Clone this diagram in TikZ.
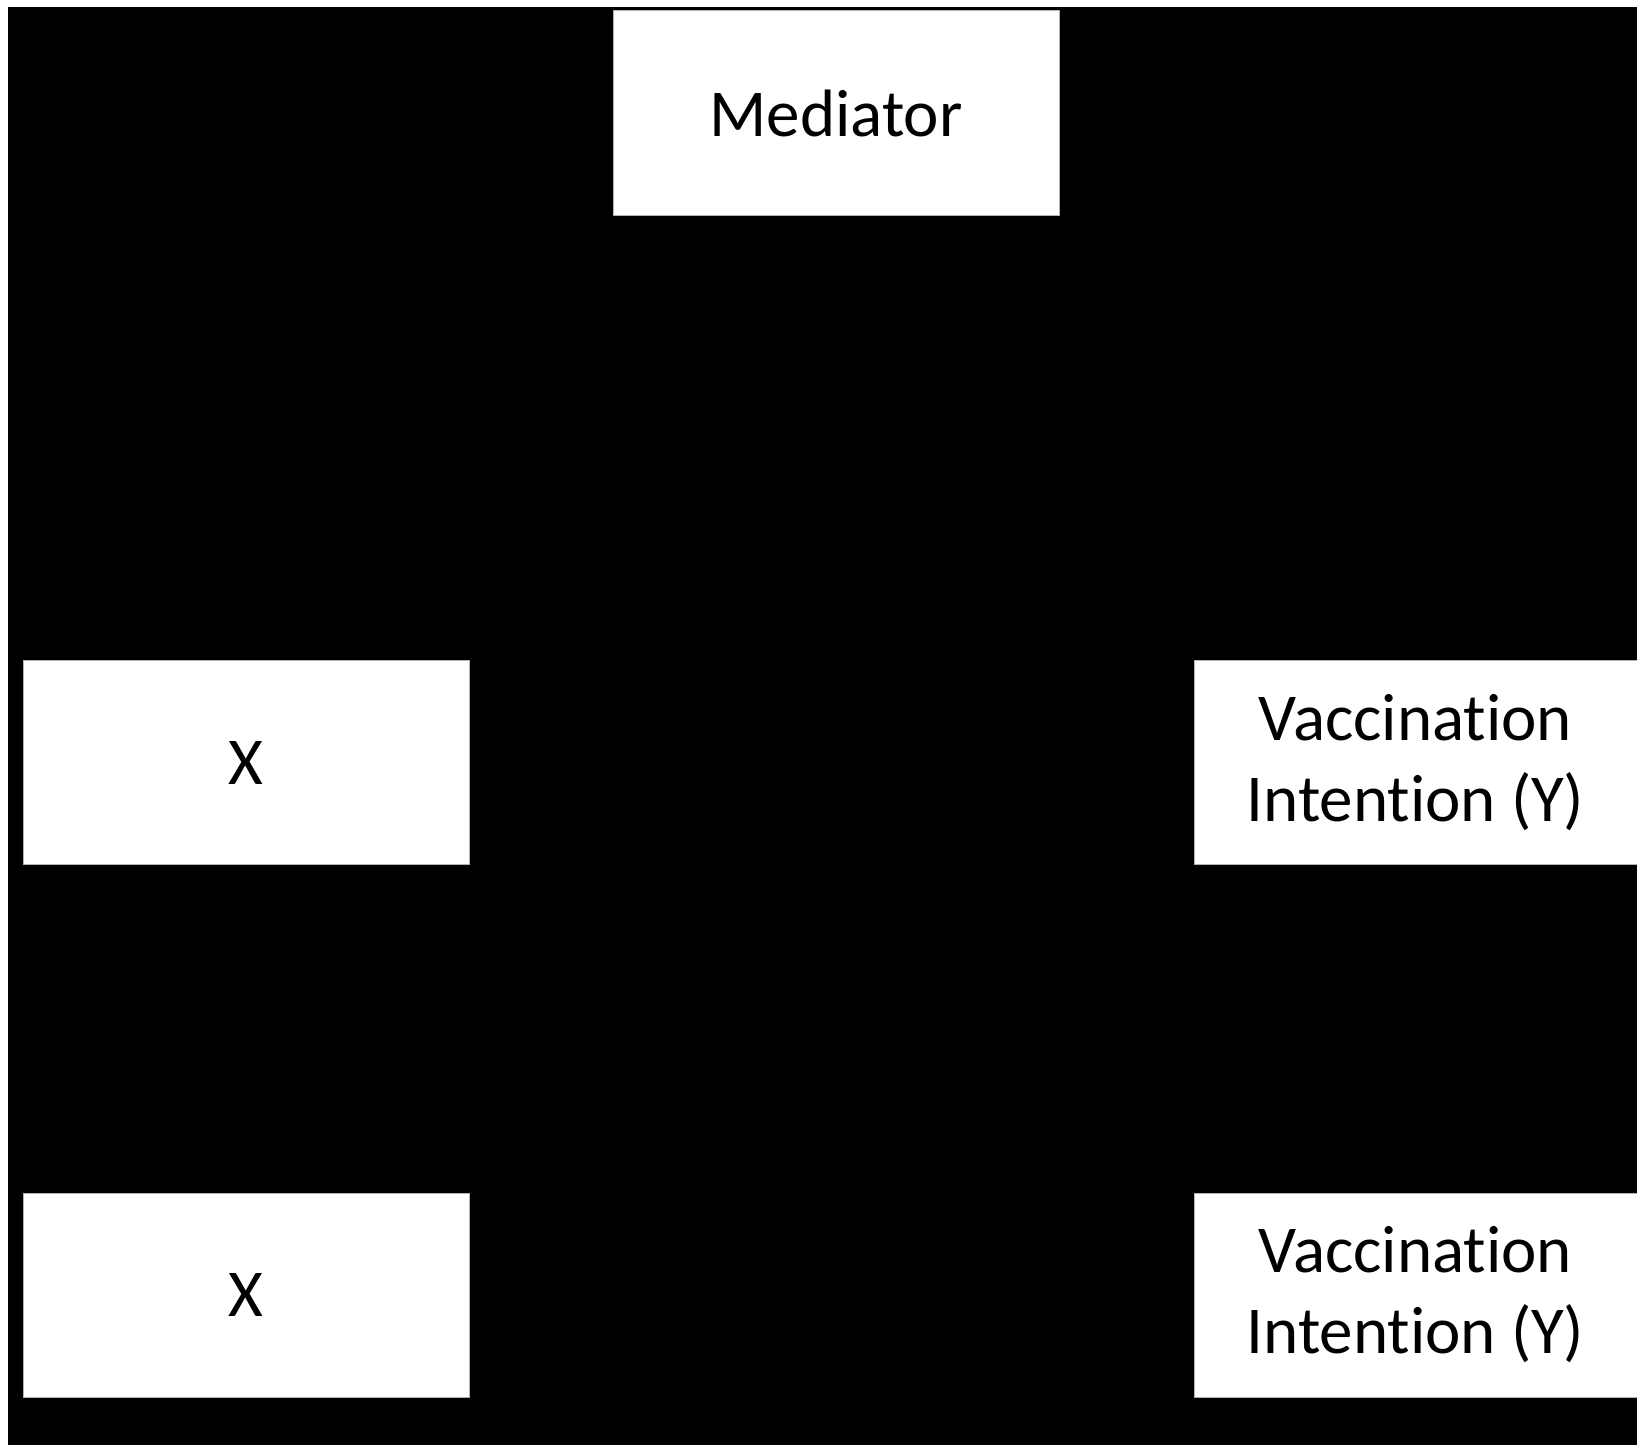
\documentclass[tikz,border=0pt]{standalone}
\usepackage{fontspec}
\setmainfont[Ligatures=NoCommon]{Carlito}
\usepackage{tikz}

\tikzset{
	varbox/.style={fill=white, draw=black!30, line width=0.5pt, inner sep=0pt,
		minimum width=223pt, minimum height=102pt, align=center,
		font=\fontsize{33.5}{40.5}\selectfont},
	outbox/.style={varbox, minimum width=221.5pt}
}

\begin{document}
\begin{tikzpicture}[x=0.5pt, y=-0.5pt]
		\useasboundingbox (0,0) rectangle (1637,1445);
		\fill[white] (0,0) rectangle (1637,1445);
		\fill[black] (8,7) rectangle (1637,1445);
		% mediator on top
		\node[varbox, minimum height=102pt] (med) at (836,113) {Mediator};
		% first path
		\node[varbox] (xa) at (246,762.5) {X};
		\node[outbox] (ya) at (1415.5,762.5) {Vaccination\\Intention (Y)};
		% second path
		\node[varbox] (xb) at (246,1295) {X};
		\node[outbox] (yb) at (1415.5,1295) {Vaccination\\Intention (Y)};
	\end{tikzpicture}
\end{document}
